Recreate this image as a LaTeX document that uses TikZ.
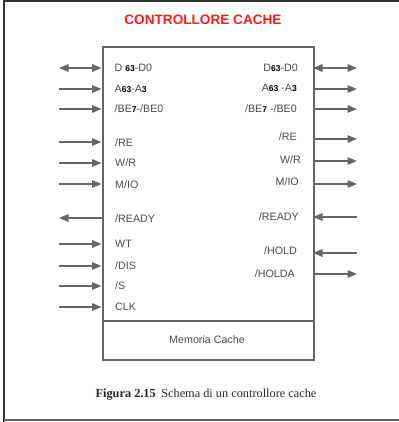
\documentclass[tikz,border=0pt]{standalone}
\usepackage{fontspec}
\setmainfont{Liberation Serif}
\newfontfamily\arial{Liberation Sans}
\usetikzlibrary{arrows.meta}
\definecolor{lbl}{HTML}{4A4A4A}
\definecolor{ln}{HTML}{666666}
\definecolor{ttl}{HTML}{FF1A1A}
\newcommand\sbx[1]{{\color{black}\bfseries\fontsize{8.5}{10}\selectfont #1}}
\tikzset{
  tip/.tip={Triangle[length=9.5pt,width=7.5pt]},
  sig/.style={draw=ln, line width=1.5pt, -tip},
  sigb/.style={draw=ln, line width=1.5pt, tip-tip},
  lab/.style={inner sep=0pt, text=lbl, text height=7.6pt, text depth=0pt,
    font=\arial\fontsize{10.7}{12}\selectfont},
  lt/.style={lab, anchor=west},
  rt/.style={lab, anchor=east},
}
\begin{document}
\begin{tikzpicture}[x=1pt,y=-1pt]
\useasboundingbox (0,0) rectangle (398,422);
% outer frame
\draw[draw=black!80, line width=1.5pt] (4,423) -- (4,1) -- (399,1);
\draw[draw=ln, line width=1.5pt] (4,420) -- (399,420);
% title
\node[text=ttl, font=\arial\bfseries\fontsize{13.6}{16}\selectfont] (title) at (203,20) {CONTROLLORE CACHE};
% main box
\node[draw=ln, line width=2pt, minimum width=211.5pt, minimum height=313pt, inner sep=0pt, anchor=north west] (box) at (101.5,46) {};
\coordinate (divL) at (101.5,321);
\coordinate (divR) at (313,321);
\draw[draw=ln, line width=2pt] (divL) -- (divR);
\node[text=lbl, font=\arial\fontsize{10.7}{12}\selectfont] (mem) at (207,340) {Memoria Cache};
% caption
\node[text=black!85, font=\fontsize{12.3}{14}\selectfont] (cap) at (206,395) {\textbf{Figura 2.15}\hspace{0.45em}Schema di un controllore cache};
% left side
\foreach \n/\y in {D/68,A/89,BE/109,RE/142,WR/163,MIO/184,READY/218,WT/244,DIS/266,S/286,CLK/307}{
  \coordinate (L\n) at (59,\y);
  \coordinate (LB\n) at (101.5,\y);
}
\draw[sigb] (LD) -- (LBD);
\foreach \n in {A,BE,RE,WR,MIO,WT,DIS,S,CLK}{ \draw[sig] (L\n) -- (LB\n); }
\draw[sig] (LBREADY) -- (LREADY);
\node[lt] (tLD) at (114.5,68) {D \sbx{63}-D0};
\node[lt] (tLA) at (114.5,89) {A\sbx{63}-A\sbx{3}};
\node[lt] (tLBE) at (114.5,109) {/BE\sbx{7}-/BE0};
\node[lt] (tLRE) at (115,143) {/RE};
\node[lt] (tLWR) at (115,163) {W/R};
\node[lt] (tLMIO) at (115,185) {M/IO};
\node[lt] (tLREADY) at (115,218.5) {/READY};
\node[lt] (tLWT) at (115,244) {WT};
\node[lt] (tLDIS) at (115,266) {/DIS};
\node[lt] (tLS) at (115,286) {/S};
\node[lt] (tLCLK) at (115,307) {CLK};
% right side
\foreach \n/\y in {D/68,A/89,BE/109,RE/139,WR/161,MIO/184,READY/217,HOLD/253,HOLDA/274}{
  \coordinate (R\n) at (357,\y);
  \coordinate (RB\n) at (313,\y);
}
\draw[sigb] (RBD) -- (RD);
\foreach \n in {A,BE,RE,WR,MIO,HOLDA}{ \draw[sig] (RB\n) -- (R\n); }
\foreach \n in {READY,HOLD}{ \draw[sig] (R\n) -- (RB\n); }
\node[rt] (tRD) at (298,68) {D\sbx{63}-D0};
\node[rt] (tRA) at (297,88) {A\sbx{63} -A\sbx{3}};
\node[rt] (tRBE) at (297,109) {/BE\sbx{7} -/BE0};
\node[rt] (tRRE) at (297,137) {/RE};
\node[rt] (tRWR) at (301,160) {W/R};
\node[rt] (tRMIO) at (299,182) {M/IO};
\node[rt] (tRREADY) at (299,217) {/READY};
\node[rt] (tRHOLD) at (297,251) {/HOLD};
\node[rt] (tRHOLDA) at (295,274) {/HOLDA};
\end{tikzpicture}
\end{document}
